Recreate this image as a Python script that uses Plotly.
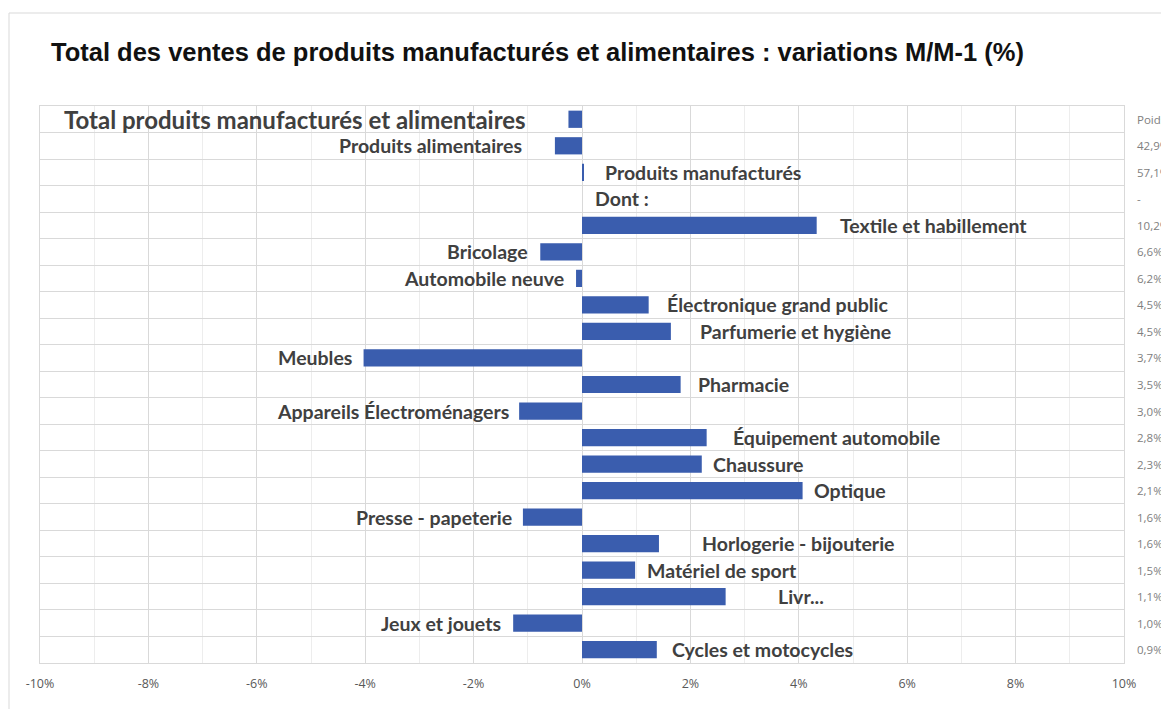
import plotly.graph_objects as go

categories = [
    "Total produits manufacturés et alimentaires",
    "Produits alimentaires",
    "Produits manufacturés",
    "Dont :",
    "Textile et habillement",
    "Bricolage",
    "Automobile neuve",
    "Électronique grand public",
    "Parfumerie et hygiène",
    "Meubles",
    "Pharmacie",
    "Appareils Électroménagers",
    "Équipement automobile",
    "Chaussure",
    "Optique",
    "Presse - papeterie",
    "Horlogerie - bijouterie",
    "Matériel de sport",
    "Livr...",
    "Jeux et jouets",
    "Cycles et motocycles",
]
variations = [-0.25, -0.50, 0.03, 0.0, 4.33, -0.77, -0.11, 1.23, 1.64, -4.03,
              1.82, -1.16, 2.30, 2.21, 4.07, -1.09, 1.42, 0.98, 2.65, -1.27, 1.38]
poids = ["Poids", "42,9%", "57,1%", "-", "10,2%", "6,6%", "6,2%", "4,5%", "4,5%",
         "3,7%", "3,5%", "3,0%", "2,8%", "2,3%", "2,1%", "1,6%", "1,6%", "1,5%",
         "1,1%", "1,0%", "0,9%"]
tick_vals = [-10, -8, -6, -4, -2, 0, 2, 4, 6, 8, 10]
tick_text = ["-10%", "-8%", "-6%", "-4%", "-2%", "0%", "2%", "4%", "6%", "8%", "10%"]

# style: pixel gap between bar end and its label
label_gap = [40, 31, 19, 11, 21, 10, 10, 16, 27, 10, 15, 8, 24, 9, 9, 9, 41, 10, 50, 10, 13]

W, H = 1169, 709
OFF = 8  # page body offset
L, T = 40 - OFF, 106 - OFF
R = W - (1124 - OFF)
B = H - (663 - OFF)
PW, PH = W - L - R, H - T - B

ypos = list(range(len(categories)))

fig = go.Figure()
fig.add_trace(go.Bar(
    x=variations, y=ypos, orientation="h",
    marker=dict(color="#3A5DAE", line=dict(width=0)),
    width=0.65, hoverinfo="skip",
))

lab_font = dict(family="Lato, Carlito, Calibri, sans-serif", size=19.5, color="#404040")
for i, (cat, v) in enumerate(zip(categories, variations)):
    f = dict(lab_font)
    if i == 0:
        f["size"] = 24
    if v < 0:
        fig.add_annotation(x=v, y=i, text="<b>%s</b>" % cat, showarrow=False,
                           xanchor="right", yanchor="middle", xshift=-label_gap[i],
                           font=f)
    else:
        fig.add_annotation(x=v, y=i, text="<b>%s</b>" % cat, showarrow=False,
                           xanchor="left", yanchor="middle", xshift=label_gap[i],
                           font=f)
    fig.add_annotation(x=1.0, xref="paper", y=i, text=poids[i], showarrow=False,
                       xanchor="left", yanchor="middle", xshift=11,
                       font=dict(family="Open Sans, sans-serif", size=11.5, color="#808080"))

# outer frame of the chart area (light border)
fig.add_shape(type="rect", xref="paper", yref="paper",
              x0=(9 - OFF - L) / PW, x1=(1300 - L) / PW,
              y0=(H - B - 760) / PH, y1=(H - B - (13 - OFF)) / PH,
              line=dict(color="#d9d9d9", width=1), fillcolor="rgba(0,0,0,0)", layer="below")

fig.update_layout(
    width=W, height=H,
    margin=dict(l=L, r=R, t=T, b=B),
    paper_bgcolor="white", plot_bgcolor="white",
    showlegend=False,
    title=dict(text="<b>Total des ventes de produits manufacturés et alimentaires : variations M/M-1 (%)</b>",
               x=(51 - OFF) / W, xanchor="left", y=1 - (52 - OFF) / H, yanchor="middle",
               font=dict(family="Liberation Sans, Arial, sans-serif", size=25.5, color="#111111")),
)
fig.update_xaxes(
    range=[-10, 10], tickvals=tick_vals, ticktext=tick_text,
    showgrid=True, gridcolor="#d9d9d9", gridwidth=1,
    minor=dict(dtick=1, tick0=0, showgrid=True, gridcolor="#ededed"),
    zeroline=False, showline=True, linecolor="#d9d9d9", mirror=True,
    ticks="", ticklabelstandoff=9,
    tickfont=dict(family="Open Sans, sans-serif", size=12.5, color="#595959"),
    fixedrange=True,
)
fig.update_yaxes(
    range=[len(categories) - 0.5, -0.5],
    tickmode="linear", tick0=0.5, dtick=1,
    showticklabels=False, showgrid=True, gridcolor="#d9d9d9",
    zeroline=False, showline=True, linecolor="#d9d9d9", mirror=True,
    fixedrange=True,
)

fig.write_html("out.html")
